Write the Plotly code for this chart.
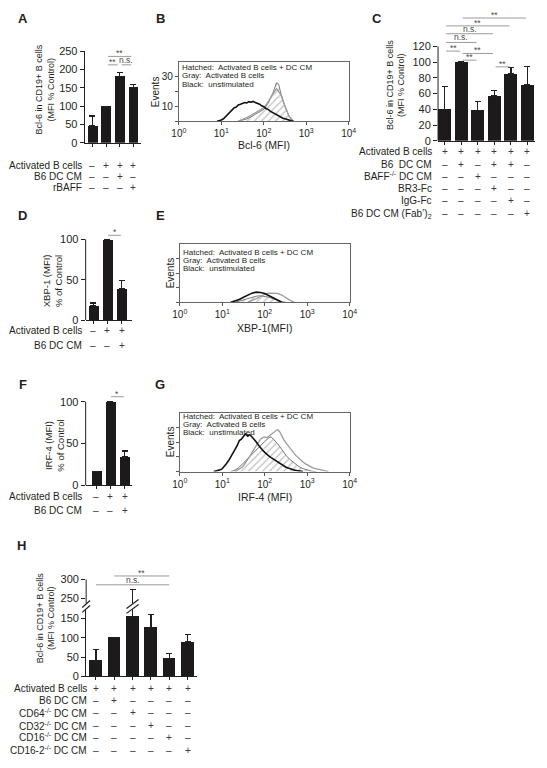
import numpy as np
import plotly.graph_objects as go

W, H = 547, 768
FONT = "Liberation Sans, Arial, Helvetica, sans-serif"
INK = "#231f20"
SIGLINE = "#9a9a9a"
SIGTXT = "#4a4a4a"
BARC = "#1c1a1b"

# ---------------- DATA ----------------
# Panel A
a_vals = [46, 100, 181, 152]
a_err = [27, 0, 12, 7]
a_yticks = [0, 50, 100, 150, 200, 250]
a_rows = ["Activated B cells", "B6 DC CM", "rBAFF"]
a_signs = [["–", "+", "+", "+"], ["–", "–", "+", "–"], ["–", "–", "–", "+"]]
a_sig = [(1, 3, "**"), (1, 2, "**"), (2, 3, "n.s.")]

# Panel C
c_vals = [40, 100, 39, 57, 85, 71]
c_err = [29, 0, 11, 7, 8, 23]
c_yticks = [0, 20, 40, 60, 80, 100, 120]
c_rows = ["Activated B cells", "B6  DC CM", "BAFF<sup>-/-</sup> DC CM", "BR3-Fc", "IgG-Fc",
          "B6 DC CM (Fab’)<sub>2</sub>"]
c_signs = [["+", "+", "+", "+", "+", "+"],
           ["–", "+", "–", "+", "+", "–"],
           ["–", "–", "+", "–", "–", "–"],
           ["–", "–", "–", "+", "–", "–"],
           ["–", "–", "–", "–", "+", "–"],
           ["–", "–", "–", "–", "–", "+"]]
c_sig = [(1, 5, "**"), (0, 4, "**"), (0, 3, "n.s."), (0, 2, "n.s."),
         (0, 1, "**"), (1, 3, "**"), (1, 2, "**"), (3, 4, "**")]

# Panel D
d_vals = [18, 100, 39]
d_err = [3, 0, 10]
d_yticks = [0, 50, 100]
d_rows = ["Activated B cells", "B6 DC CM"]
d_signs = [["–", "+", "+"], ["–", "–", "+"]]
d_sig = [(1, 2, "*")]

# Panel F
f_vals = [17, 100, 34]
f_err = [0, 0, 7]
f_yticks = [0, 50, 100]
f_rows = ["Activated B cells", "B6 DC CM"]
f_signs = [["–", "+", "+"], ["–", "–", "+"]]
f_sig = [(1, 2, "*")]

# Panel H
h_vals = [41, 100, 155, 127, 47, 89]
h_err = [28, 0, 119, 33, 13, 20]
h_yticks_low = [0, 50, 100, 150]
h_yticks_high = [250, 300]
h_rows = ["Activated B cells", "B6 DC CM", "CD64<sup>-/-</sup> DC CM", "CD32<sup>-/-</sup> DC CM",
          "CD16<sup>-/-</sup> DC CM", "CD16-2<sup>-/-</sup> DC CM"]
h_signs = [["+", "+", "+", "+", "+", "+"],
           ["–", "+", "–", "–", "–", "–"],
           ["–", "–", "+", "–", "–", "–"],
           ["–", "–", "–", "+", "–", "–"],
           ["–", "–", "–", "–", "+", "–"],
           ["–", "–", "–", "–", "–", "+"]]
h_sig = [(1, 4, "**"), (0, 4, "n.s.")]

# Histograms: log10(MFI) positions and event counts
hist_xticks = [1, 10, 100, 1000, 10000]
hist_xticktext = ["10<sup>0</sup>", "10<sup>1</sup>", "10<sup>2</sup>", "10<sup>3</sup>", "10<sup>4</sup>"]

b_black_log = [0.90, 0.95, 1.00, 1.05, 1.10, 1.15, 1.20, 1.25, 1.30, 1.35, 1.40, 1.45, 1.50, 1.55,
               1.60, 1.65, 1.70, 1.75, 1.80, 1.85, 1.90, 1.95, 2.00, 2.05, 2.10, 2.15, 2.20, 2.25,
               2.30, 2.35, 2.40, 2.45, 2.50, 2.55, 2.60, 2.65, 2.70]
b_black = [0, 0.3, 0.8, 1.6, 3.0, 4.2, 6.0, 7.2, 9.0, 9.6, 11.0, 11.4, 12.0, 12.6,
           12.3, 13.2, 12.8, 13.4, 12.6, 12.2, 11.5, 10.4, 9.8, 8.6, 8.0, 6.8, 6.0, 5.0,
           4.3, 3.4, 2.8, 2.0, 1.6, 1.0, 0.6, 0.2, 0]
b_gray_log = [1.4, 1.5, 1.6, 1.7, 1.8, 1.9, 2.0, 2.1, 2.2, 2.3, 2.4, 2.5, 2.6, 2.7]
b_gray = [0, 1.0, 2.5, 4.0, 5.5, 7.0, 9.0, 13.0, 18.0, 22.0, 18.0, 10.0, 3.0, 0]
b_hatch_log = [1.4, 1.5, 1.6, 1.7, 1.8, 1.9, 2.0, 2.1, 2.2, 2.3, 2.35, 2.4, 2.5, 2.6, 2.7]
b_hatch = [0, 0.5, 1.5, 3.0, 4.5, 6.0, 8.0, 12.0, 18.0, 26.0, 25.0, 19.0, 10.0, 3.0, 0]

e_black_log = [1.2, 1.3, 1.4, 1.5, 1.6, 1.7, 1.8, 1.9, 2.0, 2.1, 2.2, 2.3, 2.4]
e_black = [0, 0.8, 2.0, 3.5, 5.0, 6.3, 7.0, 6.8, 6.0, 4.5, 3.0, 1.3, 0]
e_gray_log = [1.6, 1.7, 1.8, 1.9, 2.0, 2.1, 2.2, 2.3, 2.4, 2.5, 2.6, 2.7]
e_gray = [0, 1.0, 2.5, 4.0, 5.5, 6.3, 6.5, 6.2, 5.0, 3.0, 1.3, 0]
e_hatch_log = [1.3, 1.4, 1.5, 1.6, 1.7, 1.8, 1.9, 2.0, 2.1, 2.2, 2.3, 2.4, 2.5]
e_hatch = [0, 0.8, 1.8, 2.8, 3.6, 4.2, 4.5, 4.2, 3.5, 2.4, 1.2, 0.4, 0]

g_black_log = [0.80, 0.85, 0.90, 0.95, 1.00, 1.05, 1.10, 1.15, 1.20, 1.25, 1.30, 1.35, 1.40, 1.45,
               1.50, 1.55, 1.60, 1.65, 1.70, 1.75, 1.80, 1.85, 1.90, 1.95, 2.00, 2.05, 2.10, 2.15,
               2.20, 2.25, 2.30, 2.35, 2.40, 2.45, 2.50, 2.55, 2.60, 2.65, 2.70, 2.75, 2.80, 2.85, 2.90]
g_black = [0, 0.3, 0.6, 1.2, 2.0, 3.5, 5.5, 7.5, 10.0, 12.0, 15.0, 17.5, 21.0, 22.0,
           24.0, 25.5, 24.0, 25.0, 23.5, 22.0, 20.0, 18.0, 16.0, 14.5, 13.0, 11.5, 10.5, 9.5,
           8.5, 7.5, 6.5, 5.5, 4.5, 3.8, 3.0, 2.4, 1.8, 1.4, 1.0, 0.7, 0.4, 0.2, 0]
g_gray_log = [1.30, 1.35, 1.40, 1.45, 1.50, 1.55, 1.60, 1.65, 1.70, 1.75, 1.80, 1.85, 1.90, 1.95,
              2.00, 2.05, 2.10, 2.15, 2.20, 2.25, 2.30, 2.35, 2.40, 2.45, 2.50, 2.55, 2.60, 2.65,
              2.70, 2.75, 2.80, 2.85, 2.90, 2.95, 3.00, 3.05, 3.10, 3.15, 3.20, 3.25, 3.30, 3.35,
              3.40, 3.45, 3.50]
g_gray = [0, 0.7, 1.5, 2.6, 4.0, 6.0, 8.0, 10.5, 13.0, 15.5, 18.0, 20.5, 22.0, 23.0,
          23.5, 23.0, 24.0, 25.0, 26.0, 27.5, 28.5, 27.0, 24.0, 21.5, 19.5, 17.5, 15.5, 13.5,
          12.0, 10.5, 9.0, 7.5, 6.5, 5.4, 4.4, 3.6, 3.0, 2.4, 2.0, 1.6, 1.2, 0.9,
          0.6, 0.3, 0]
g_hatch_log = [1.2, 1.3, 1.4, 1.5, 1.6, 1.7, 1.8, 1.9, 2.0, 2.1, 2.15, 2.2, 2.3, 2.4, 2.5, 2.6,
               2.7, 2.8, 2.9, 3.0, 3.1, 3.2]
g_hatch = [0, 1.0, 3.0, 6.0, 9.0, 12.0, 15.0, 18.0, 20.5, 23.0, 23.5, 22.0, 19.0, 15.0, 11.0, 8.0,
           5.5, 3.5, 2.0, 1.0, 0.3, 0]

legend_lines = ["Hatched:  Activated B cells + DC CM", "Gray:  Activated B cells", "Black:  unstimulated"]

# ---------------- LAYOUT HELPERS ----------------
def px(x):
    return x / W


def py(y):
    return 1 - y / H


fig = go.Figure()
layout = dict(width=W, height=H, margin=dict(l=0, r=0, t=0, b=0),
              paper_bgcolor="white", plot_bgcolor="white", showlegend=False,
              font=dict(family=FONT, color=INK, size=10), bargap=0)
annotations = []
shapes = []


def ann(text, x, y, size=10, xanchor="center", yanchor="middle", angle=0, color=INK,
        xref="paper", yref="paper", yshift=0):
    annotations.append(dict(text=text, x=x, y=y, xref=xref, yref=yref, showarrow=False,
                            xanchor=xanchor, yanchor=yanchor, textangle=angle, yshift=yshift,
                            borderpad=0,
                            font=dict(family=FONT, size=size, color=color)))


def axid(k):
    return ("x" if k == 1 else f"x{k}"), ("y" if k == 1 else f"y{k}")


def bar_trace(vals, errs, xa, ya, bw):
    fig.add_trace(go.Bar(
        x=list(range(len(vals))), y=vals, width=bw, xaxis=xa, yaxis=ya,
        marker=dict(color=BARC, line=dict(width=0)), hoverinfo="skip",
        error_y=dict(type="data", array=errs, arrayminus=[0] * len(errs), symmetric=False,
                     color=INK, thickness=1.3, width=3)))


def xaxis_bar(k, x0, x1, xr, n, ya):
    layout["xaxis" if k == 1 else f"xaxis{k}"] = dict(
        domain=[px(x0), px(x1)], range=xr, anchor=ya, showline=True, linecolor=INK,
        linewidth=1, ticks="outside", ticklen=3, tickcolor=INK, tickvals=list(range(n)),
        showticklabels=False, showgrid=False, zeroline=False, fixedrange=True)


def yaxis_bar(key, xa, top, bottom, yr, tickvals, showline=True):
    layout[key] = dict(
        domain=[py(bottom), py(top)], range=yr, anchor=xa, showline=showline, linecolor=INK,
        linewidth=1, ticks="outside", ticklen=4, tickcolor=INK, tickvals=tickvals,
        tickfont=dict(size=11, family=FONT, color=INK), showgrid=False, zeroline=False,
        fixedrange=True)


def axis_line_shape(xa, ya, y0, y1):
    shapes.append(dict(type="line", xref=f"{xa} domain", x0=0, x1=0, yref=ya, y0=y0, y1=y1,
                       line=dict(color=INK, width=1)))


def sig(xa, ya, pairs, levels, inset=0.08, size=8.5):
    for (i, j, lab), lev in zip(pairs, levels):
        shapes.append(dict(type="line", xref=xa, yref=ya, x0=i + inset, x1=j - inset, y0=lev, y1=lev,
                           line=dict(color=SIGLINE, width=1)))
        ann(lab, (i + j) / 2, lev, size=size, xref=xa, yref=ya, yanchor="bottom",
            color=SIGTXT, yshift=(-3 if "*" in lab else -1))


def table(xa, rows, signs, right_px, rows_px, size=10):
    for lab, sg, ypx in zip(rows, signs, rows_px):
        ann(lab, px(right_px), py(ypx), size=size, xanchor="right")
        for i, s in enumerate(sg):
            ann(s, i, py(ypx), size=size, xref=xa, color="#3a3a3a")


def ytitle(lines, xc, yc, size=9):
    ann("<br>".join(lines), px(xc), py(yc), size=size, angle=-90)


def hist_panel(k, x0, x1, top, bottom, hatch_l, hatch_v, gray_l, gray_v, black_l, black_v,
               ylabels, xtitle, xtitle_y, events_x, leg_y):
    xa, ya = axid(k)
    fig.add_trace(go.Scatter(x=np.power(10.0, hatch_l), y=hatch_v, xaxis=xa, yaxis=ya, mode="lines",
                             line=dict(color="#7a7a7a", width=1), fill="tozeroy",
                             fillcolor="rgba(255,255,255,0)",
                             fillpattern=dict(shape="/", fgcolor="#808080", bgcolor="white",
                                              size=5, solidity=0.25),
                             hoverinfo="skip"))
    fig.add_trace(go.Scatter(x=np.power(10.0, gray_l), y=gray_v, xaxis=xa, yaxis=ya, mode="lines",
                             line=dict(color="#9c9c9c", width=1.3), hoverinfo="skip"))
    fig.add_trace(go.Scatter(x=np.power(10.0, black_l), y=black_v, xaxis=xa, yaxis=ya, mode="lines",
                             line=dict(color="#111111", width=1.6), hoverinfo="skip"))
    layout[f"xaxis{k}"] = dict(domain=[px(x0), px(x1)], type="log", range=[0, 4], anchor=ya,
                               tickvals=hist_xticks, ticktext=hist_xticktext, ticks="outside",
                               ticklen=3, tickcolor="#555", showline=True, mirror=True,
                               linecolor="#666", linewidth=1, showgrid=False, zeroline=False,
                               tickfont=dict(size=10, family=FONT, color=INK), fixedrange=True)
    layout[f"yaxis{k}"] = dict(domain=[py(bottom), py(top)], range=[0, 40], anchor=xa,
                               tickvals=[0, 10, 20, 30], ticktext=ylabels, ticks="outside",
                               ticklen=3, tickcolor="#555", showline=True, mirror=True,
                               linecolor="#666", linewidth=1, showgrid=False, zeroline=False,
                               tickfont=dict(size=10, family=FONT, color=INK), fixedrange=True)
    ann(xtitle, px((x0 + x1) / 2), py(xtitle_y), size=10.5)
    ann("Events", px(events_x), py((top + bottom) / 2), size=10, angle=-90)
    for line, ly in zip(legend_lines, leg_y):
        ann(line, px(x0 + 2), py(ly), size=8, xanchor="left")


# ---------------- PANEL A ----------------
xa, ya = axid(1)
bar_trace(a_vals, a_err, xa, ya, 0.72)
xaxis_bar(1, 79, 137, [-0.57, 3.57], len(a_vals), ya)
yaxis_bar("yaxis", xa, 46, 139, [0, 250], a_yticks)
sig(xa, ya, a_sig, [236, 213, 213], inset=0.15)
table(xa, a_rows, a_signs, 77, [162, 173, 184])
ytitle(["Bcl-6 in CD19+ B cells", "(MFI % Control)"], 38, 85)

# ---------------- PANEL C ----------------
xa, ya = axid(3)
bar_trace(c_vals, c_err, xa, ya, 0.8)
xaxis_bar(3, 443, 543, [-0.41, 5.47], len(c_vals), ya)
yaxis_bar("yaxis3", xa, 5, 137, [0, 165], c_yticks, showline=False)
axis_line_shape(xa, ya, 0, 120)
sig(xa, ya, c_sig, [156, 146, 136, 125, 114, 111, 102.5, 94], inset=0.08)
table(xa, c_rows, c_signs, 438, [148, 161, 173, 185, 198, 211])
ytitle(["Bcl-6 in CD19+ B cells", "(MFI % Control)"], 399, 80)

# ---------------- PANEL D ----------------
xa, ya = axid(4)
bar_trace(d_vals, d_err, xa, ya, 0.69)
xaxis_bar(4, 80, 128, [-0.55, 2.76], len(d_vals), ya)
yaxis_bar("yaxis4", xa, 224, 319, [0, 115.9], d_yticks, showline=False)
axis_line_shape(xa, ya, 0, 100)
sig(xa, ya, d_sig, [105], inset=0.05)
table(xa, d_rows, d_signs, 77, [330, 345])
ytitle(["XBP-1 (MFI)", "% of Control"], 46, 279, size=9.5)

# ---------------- PANEL F ----------------
xa, ya = axid(6)
bar_trace(f_vals, f_err, xa, ya, 0.72)
xaxis_bar(6, 80, 128, [-0.76, 2.55], len(f_vals), ya)
yaxis_bar("yaxis6", xa, 388, 487, [0, 116.5], f_yticks, showline=False)
axis_line_shape(xa, ya, 0, 100)
sig(xa, ya, f_sig, [106], inset=0.05)
table(xa, f_rows, f_signs, 77, [498, 513])
ytitle(["IRF-4 (MFI)", "% of Control"], 47, 447, size=9.5)

# ---------------- PANEL H (broken axis) ----------------
xa, ya = axid(8)
bar_trace(h_vals, h_err, xa, ya, 0.69)
bar_trace(h_vals, h_err, xa, "y9", 0.69)
xaxis_bar(8, 80.5, 195, [-0.53, 5.53], len(h_vals), ya)
yaxis_bar("yaxis8", xa, 613, 681, [0, 173.5], h_yticks_low, showline=True)
yaxis_bar("yaxis9", xa, 570, 607, [236, 333.4], h_yticks_high, showline=False)
axis_line_shape(xa, "y9", 236, 300)
sig(xa, "y9", h_sig, [309.7, 286], inset=0.0)
table(xa, h_rows, h_signs, 82, [693, 706, 718, 731, 743, 756])
ytitle(["Bcl-6 in CD19+ B cells", "(MFI % Control)"], 39, 622)
# break marks on axis and on the long error bar
for off in (-2.5, 2.5):
    shapes.append(dict(type="line", xref=f"{xa} domain", yref="paper",
                       x0=-0.035, x1=0.035, y0=py(610 + off + 3.5), y1=py(610 + off - 3.5),
                       line=dict(color=INK, width=1.2)))
    shapes.append(dict(type="line", xref=xa, yref="paper",
                       x0=2 - 0.33, x1=2 + 0.33, y0=py(610 + off + 4.5), y1=py(610 + off - 4.5),
                       line=dict(color=INK, width=1.2)))

# ---------------- HISTOGRAMS ----------------
hist_panel(2, 176, 351, 57, 117, b_hatch_log, b_hatch, b_gray_log, b_gray, b_black_log, b_black,
           ["", "10", "", "30"], "Bcl-6 (MFI)", 141, 152, [62, 71, 80])
hist_panel(5, 177, 352, 242, 301, e_hatch_log, e_hatch, e_gray_log, e_gray, e_black_log, e_black,
           ["", "", "", ""], "XBP-1(MFI)", 327, 167, [250, 258.5, 267])
hist_panel(7, 177, 352, 413, 473, g_hatch_log, g_hatch, g_gray_log, g_gray, g_black_log, g_black,
           ["", "", "", ""], "IRF-4 (MFI)", 499, 167, [417.5, 425.5, 433])

# ---------------- PANEL LETTERS ----------------
for letter, lx, ly in [("A", 15, 13), ("B", 157, 13), ("C", 380, 13), ("D", 15, 213),
                       ("E", 157, 213), ("F", 15, 384), ("G", 157, 384), ("H", 14, 548)]:
    ann(f"<b>{letter}</b>", px(lx), py(ly), size=13)

layout["annotations"] = annotations
layout["shapes"] = shapes
fig.update_layout(**layout)
fig.write_html("out.html", config={"displayModeBar": False})
